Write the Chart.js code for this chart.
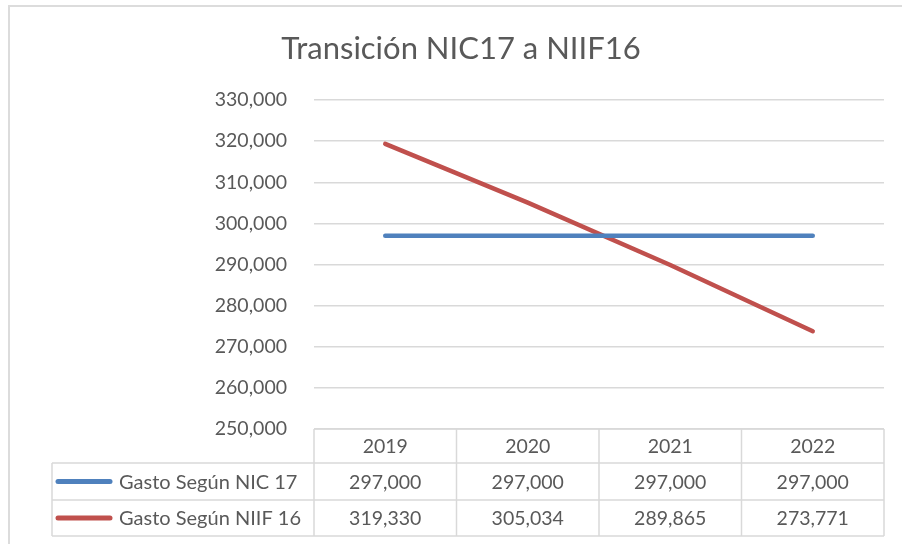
<!DOCTYPE html>
<html>
<head>
<meta charset="utf-8">
<script src="https://cdn.jsdelivr.net/npm/chart.js@4/dist/chart.umd.min.js"></script>
<style>
  html, body { margin: 0; padding: 0; background: #ffffff; }
  #wrap { position: relative; width: 902px; height: 544px; overflow: hidden; }
  #frame { position: absolute; left: 8px; top: 5px; right: -4px; bottom: -4px;
           border-left: 2px solid #dcdcdc; border-top: 2px solid #dcdcdc; pointer-events: none; }
  canvas { position: absolute; left: 0; top: 0; }
</style>
</head>
<body>
<div id="wrap">
  <canvas id="c" width="902" height="544"></canvas>
  <div id="frame"></div>
</div>
<script>
const titleText = 'Transición NIC17 a NIIF16';
const categories = ['2019', '2020', '2021', '2022'];
const seriesNames = ['Gasto Según NIC 17', 'Gasto Según NIIF 16'];
const gastoNIC17 = [297000, 297000, 297000, 297000];
const gastoNIIF16 = [319330, 305034, 289865, 273771];
const seriesColors = ['#4f81bd', '#c0504d'];
const yMin = 250000, yMax = 330000, yStep = 10000;

const FONT = 'Lato, "Open Sans", sans-serif';
const TEXT = '#595959';
const GRID = '#d9d9d9';
const fmt = v => Number(v).toLocaleString('en-US');

const dataTablePlugin = {
  id: 'dataTable',
  afterDraw(chart) {
    const ctx = chart.ctx;
    const x = chart.scales.x;
    const area = chart.chartArea;
    const n = categories.length;
    const half = (area.right - area.left) / (2 * n);
    const tableLeft = 52;
    const top = area.bottom;
    const rowY = [top, 463, 500, 536];
    ctx.save();
    ctx.strokeStyle = GRID;
    ctx.lineWidth = 1.5;
    ctx.beginPath();
    ctx.moveTo(area.left, rowY[0]); ctx.lineTo(area.right, rowY[0]);
    for (let r = 1; r < rowY.length; r++) {
      ctx.moveTo(tableLeft, rowY[r]); ctx.lineTo(area.right, rowY[r]);
    }
    ctx.moveTo(tableLeft, rowY[1]); ctx.lineTo(tableLeft, rowY[3]);
    for (let i = 0; i < n; i++) {
      const xl = x.getPixelForValue(i) - half;
      ctx.moveTo(xl, rowY[0]); ctx.lineTo(xl, rowY[3]);
    }
    ctx.moveTo(area.right, rowY[0]); ctx.lineTo(area.right, rowY[3]);
    ctx.stroke();

    ctx.fillStyle = TEXT;
    ctx.textBaseline = 'middle';
    ctx.font = '19.5px ' + FONT;
    ctx.textAlign = 'center';
    categories.forEach((c, i) => {
      ctx.fillText(c, x.getPixelForValue(i), (rowY[0] + rowY[1]) / 2 + 1);
    });
    chart.data.datasets.forEach((ds, r) => {
      const cy = (rowY[r + 1] + rowY[r + 2]) / 2 + 1;
      ctx.font = '19.5px ' + FONT;
      ctx.textAlign = 'center';
      ds.data.forEach((v, i) => {
        ctx.fillText(fmt(v), x.getPixelForValue(i), cy);
      });
      ctx.strokeStyle = ds.borderColor;
      ctx.lineWidth = 5;
      ctx.lineCap = 'round';
      ctx.beginPath();
      ctx.moveTo(58, cy - 1); ctx.lineTo(110, cy - 1);
      ctx.stroke();
      ctx.font = '20px ' + FONT;
      ctx.textAlign = 'left';
      ctx.fillText(ds.label, 119, cy);
    });
    ctx.restore();
  }
};

new Chart(document.getElementById('c'), {
  type: 'line',
  data: {
    labels: categories,
    datasets: [
      { label: seriesNames[0], data: gastoNIC17, borderColor: seriesColors[0], backgroundColor: seriesColors[0] },
      { label: seriesNames[1], data: gastoNIIF16, borderColor: seriesColors[1], backgroundColor: seriesColors[1] }
    ]
  },
  options: {
    responsive: false,
    animation: false,
    devicePixelRatio: 1,
    layout: { padding: { left: 38, right: 18, top: 0, bottom: 115 } },
    elements: {
      line: { borderWidth: 4.5, tension: 0, borderCapStyle: 'round', borderJoinStyle: 'round' },
      point: { radius: 0, hoverRadius: 0 }
    },
    plugins: {
      legend: { display: false },
      tooltip: { enabled: false },
      title: {
        display: true,
        text: titleText,
        color: TEXT,
        font: { family: FONT, size: 31, weight: 'normal' },
        padding: { top: 30.5, bottom: 32.3 }
      }
    },
    scales: {
      x: { type: 'category', offset: true, display: false },
      y: {
        min: yMin, max: yMax,
        afterFit(scale) { scale.width = 276; },
        border: { display: false },
        grid: { color: GRID, lineWidth: 1.5, drawTicks: false },
        ticks: {
          stepSize: yStep,
          padding: 27,
          color: TEXT,
          font: { family: FONT, size: 19.5 },
          callback: v => fmt(v)
        }
      }
    }
  },
  plugins: [dataTablePlugin]
});
</script>
</body>
</html>
